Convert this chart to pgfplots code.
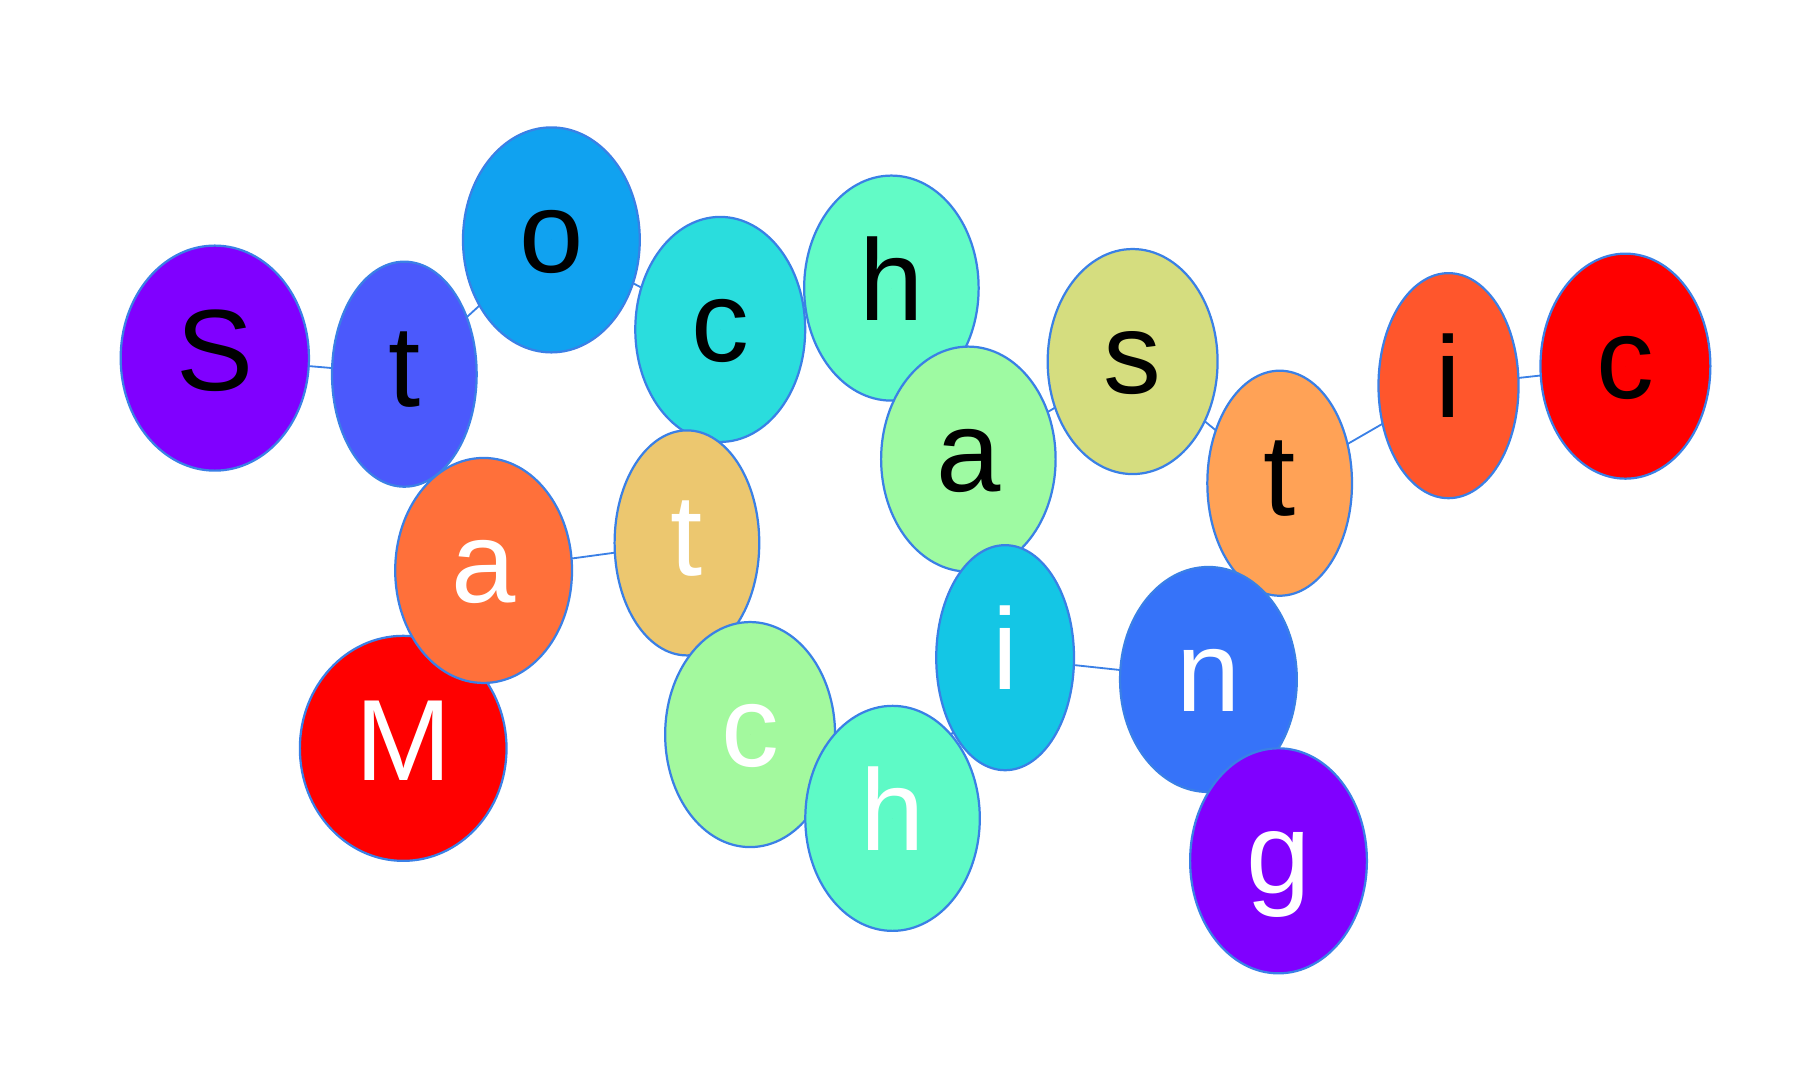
\documentclass[border=0pt]{standalone}
\usepackage{pgfplots}
\pgfplotsset{compat=1.18}
\usepackage{pgfplotstable}
\usepackage{fontspec}
\setmainfont{Liberation Sans}
\definecolor{edgeblue}{HTML}{3A80E6}
\definecolor{bc0}{HTML}{8000FF}
\definecolor{bc1}{HTML}{4B59FC}
\definecolor{bc2}{HTML}{10A2F0}
\definecolor{bc3}{HTML}{2ADDDD}
\definecolor{bc4}{HTML}{62FBC6}
\definecolor{bc5}{HTML}{9EFAA2}
\definecolor{bc6}{HTML}{D5DD7F}
\definecolor{bc7}{HTML}{FFA256}
\definecolor{bc8}{HTML}{FF562C}
\definecolor{bc9}{HTML}{FF0000}
\definecolor{bc10}{HTML}{FF703A}
\definecolor{bc11}{HTML}{ECC76F}
\definecolor{bc12}{HTML}{A3F99E}
\definecolor{bc13}{HTML}{5EFAC6}
\definecolor{bc14}{HTML}{14C6E5}
\definecolor{bc15}{HTML}{3673F9}
\pgfdeclareplotmark{emptymark}{}
\pgfplotstableread{
x y rx ry k txt
187 312 82 98 0 S
352 326 63 98 1 t
480 209 77 98 2 o
627 287 74 98 3 c
776 251 76 98 4 h
843 400 76 98 5 a
986 315 74 98 6 s
1114 421 63 98 7 t
1261 336 61 98 8 i
1415 319 74 98 9 c
}\wordone
\pgfplotstableread{
x y rx ry k txt
351 652 90 98 9 M
421 497 77 98 10 a
598 473 63 98 11 t
653 640 74 98 12 c
777 713 76 98 13 h
875 573 60 98 14 i
1052 592 77 98 15 n
1113 750 77 98 0 g
}\wordtwo
\pgfplotsset{
  bubbles/.style={
    only marks, scatter, mark=*,
    point meta=\thisrow{k},
    visualization depends on={\thisrow{rx} \as \rx},
    visualization depends on={\thisrow{ry} \as \ry},
    visualization depends on={\thisrow{k} \as \kk},
    scatter/@pre marker code/.code={%
      \pgfmathtruncatemacro\ci{\kk}%
      \fill[fill=bc\ci, draw=edgeblue, line width=0.55pt] (0,0) ellipse [x radius={\rx*0.0995mm}, y radius={\ry*0.0995mm}];
      \def\pgfplotsplothandlermarkcode{}%
      \begin{pgfscope}%
    },
    scatter/@post marker code/.code={\end{pgfscope}},
    mark size=0pt,
  },
  letters/.style={
    only marks, mark=emptymark,
    point meta=explicit symbolic,
    nodes near coords={\pgfplotspointmeta},
    nodes near coords style={text=#1, anchor=base, inner sep=0pt, yshift=-2.8mm, font=\fontsize{28.5}{30}\selectfont},
  }
}
\begin{document}
\begin{tikzpicture}
\begin{axis}[
  width=15.6cm, height=9.36cm, scale only axis,
  xmin=0, xmax=1567, ymin=0, ymax=941, y dir=reverse,
  hide axis, clip=false,
]
\addplot[draw=none, forget plot] coordinates {(0,0) (1567,941)};
\addplot[edgeblue, line width=0.45pt] table[x=x, y=y] {\wordone};
\addplot[edgeblue, line width=0.45pt] table[x=x, y=y] {\wordtwo};
\addplot[bubbles] table[x=x, y=y] {\wordone};
\addplot[letters=black] table[x=x, y=y, meta=txt] {\wordone};
\addplot[bubbles] table[x=x, y=y] {\wordtwo};
\addplot[letters=white] table[x=x, y=y, meta=txt] {\wordtwo};
\end{axis}
\end{tikzpicture}
\end{document}
